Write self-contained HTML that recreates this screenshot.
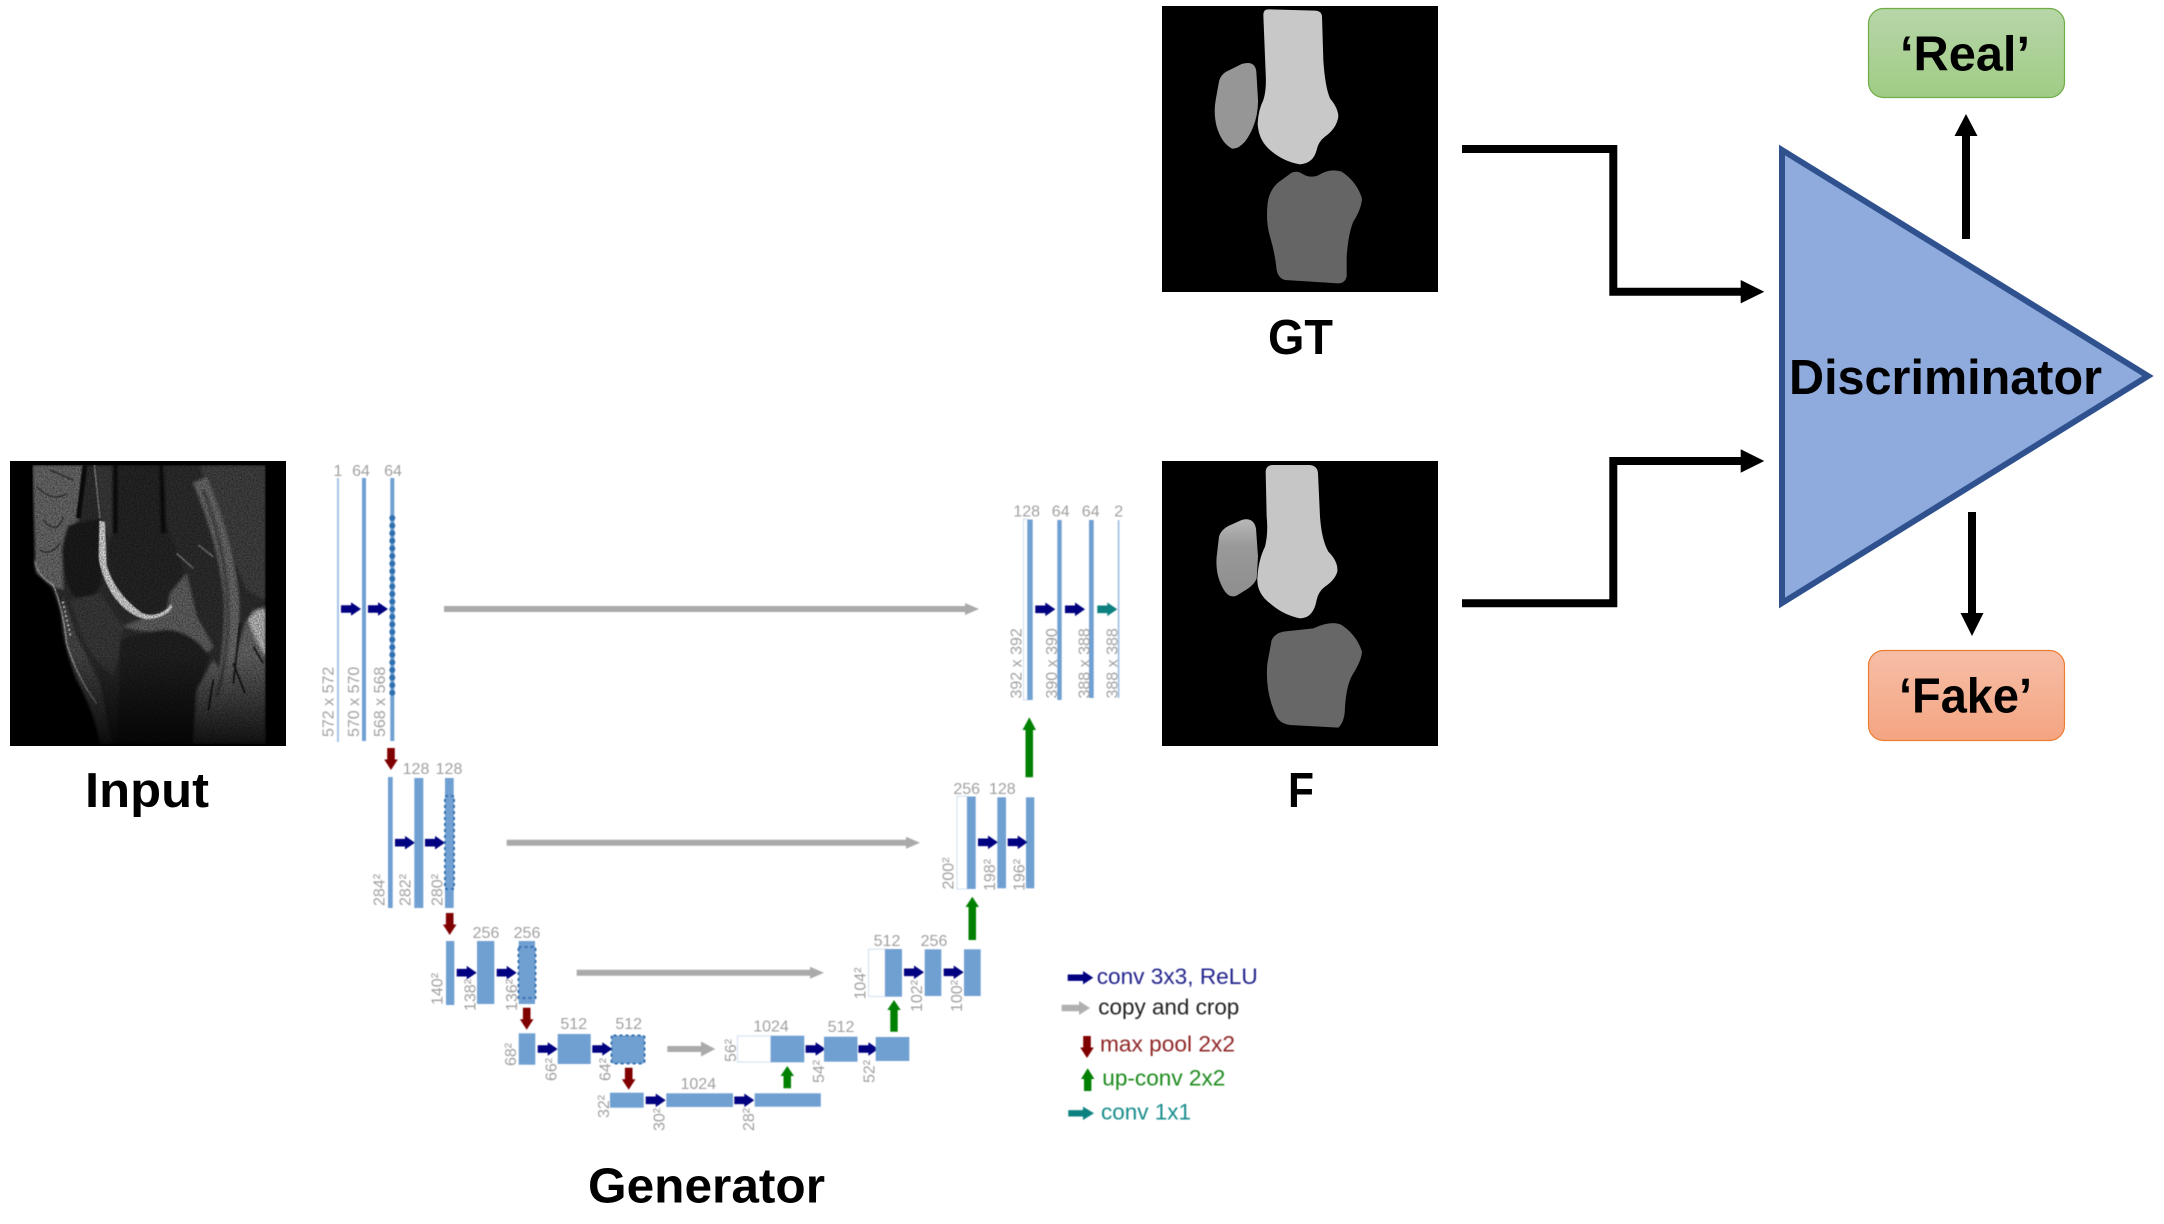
<!DOCTYPE html>
<html lang="en">
<head>
<meta charset="utf-8">
<title>GAN knee segmentation diagram</title>
<style>
html,body{margin:0;padding:0;background:#fff;width:2164px;height:1224px;overflow:hidden}
svg{display:block}
text{font-family:"Liberation Sans",sans-serif}
.b{fill:#6f9fd1}
.w{fill:#fff;stroke:#d5e3f3;stroke-width:1.2}
.t{fill:#a0a0a0;font-size:16px;text-anchor:middle}
.r{fill:#a0a0a0;font-size:16px}
.d{fill:#6f9fd1;stroke:#2f6fb0;stroke-width:2;stroke-dasharray:3 3}
.h{font-weight:bold;font-size:49px;fill:#000}
.l{font-size:22.5px}
</style>
</head>
<body>
<svg xmlns="http://www.w3.org/2000/svg" width="2164" height="1224" viewBox="0 0 2164 1224">
<defs>
  <path id="nv" d="M0-3.8H10V-6.8L20 0 10 6.8V3.8H0Z" fill="#000080"/>
  <path id="tl" d="M0-3.8H10V-6.8L20 0 10 6.8V3.8H0Z" fill="#0a8080"/>
  <path id="rd" d="M-3.8 0H3.8V11.5H6.8L0 22-6.8 11.5H-3.8Z" fill="#800000"/>
  <filter id="soft" x="-2%" y="-2%" width="104%" height="104%"><feGaussianBlur stdDeviation="0.55"/></filter>
  <filter id="mriB" x="-5%" y="-5%" width="110%" height="110%"><feGaussianBlur stdDeviation="4"/></filter>
  <filter id="mriS" x="-10%" y="-10%" width="120%" height="120%"><feGaussianBlur stdDeviation="1.6"/></filter>
  <filter id="noise" x="0" y="0" width="100%" height="100%">
    <feTurbulence type="fractalNoise" baseFrequency="0.22" numOctaves="2" seed="4"/>
    <feColorMatrix type="matrix" values="0 0 0 0 0  0 0 0 0 0  0 0 0 0 0  1.6 0 0 0 -0.5"/>
  </filter>
  <linearGradient id="fade" x1="0" y1="0" x2="0" y2="1">
    <stop offset="0.68" stop-color="#000" stop-opacity="0"/><stop offset="1" stop-color="#000" stop-opacity="0.8"/>
  </linearGradient>
  <linearGradient id="gG" x1="0" y1="0" x2="0" y2="1"><stop offset="0" stop-color="#b7d6a9"/><stop offset="1" stop-color="#a0cc85"/></linearGradient>
  <linearGradient id="gO" x1="0" y1="0" x2="0" y2="1"><stop offset="0" stop-color="#f6bea7"/><stop offset="1" stop-color="#f4a582"/></linearGradient>
  <linearGradient id="pF" x1="0" y1="0" x2="0" y2="1"><stop offset="0" stop-color="#b8b8b8"/><stop offset="0.35" stop-color="#999"/><stop offset="1" stop-color="#8e8e8e"/></linearGradient>
  <clipPath id="mriC"><rect x="97" y="45" width="700" height="835"/></clipPath>
</defs>

<!-- Input MRI -->
<rect x="10" y="461" width="276" height="285" fill="#000"/>
<g transform="translate(0,450) scale(.33333)">
  <g clip-path="url(#mriC)">
    <g filter="url(#mriB)">
      <path d="M97,45L797,45L797,880L310,880Q290,790 240,700Q205,620 190,540Q175,450 150,405L110,370Q100,340 105,320Z" fill="#2f2f2f"/>
      <path d="M97,45L250,45L235,210Q190,240 185,300L190,420L150,405L110,370Q100,340 105,320Z" fill="#6a6a6a"/>
      <path d="M600,45L797,45L797,450L740,420Q690,300 630,150Z" fill="#424242"/>
      <path d="M285,45H345L335,280L305,210Z" fill="#3a3a3a"/>
      <path d="M345,45L490,45L495,200L525,290Q560,360 545,410Q500,490 440,495Q370,480 335,400L325,300L345,200Z" fill="#272727"/>
      <path d="M345,45L345,250M485,45L490,250" stroke="#0e0e0e" stroke-width="16" fill="none"/>
      <path d="M490,45H600L640,240L620,400L545,340L500,200Z" fill="#2e2e2e"/>
      <path d="M205,225L300,205L305,400Q280,450 240,455Q200,430 190,340Q185,270 205,225Z" fill="#1f1f1f"/>
      <path d="M210,450L300,430L370,530L350,640L340,680Q270,620 240,540Z" fill="#3a3a3a"/>
      <path d="M190,440L230,560L300,700L335,880H300Q280,780 230,690Q195,600 185,520Z" fill="#4a4a4a"/>
      <path d="M370,530Q430,500 500,490L510,430L560,370L590,500L640,590L620,610Q560,530 480,540Q430,550 370,530Z" fill="#626262"/>
      <path d="M360,570Q420,550 480,545Q570,530 630,620Q590,700 585,880L350,880Q360,700 360,570Z" fill="#202020"/>
      <path d="M640,630L590,720L580,880L797,880L797,470L760,480L735,520Q710,620 680,690Z" fill="#686868"/>
      <path d="M600,90Q680,280 695,450Q700,620 650,780" stroke="#6c6c6c" stroke-width="44" fill="none"/>
      <path d="M610,120Q675,290 683,450Q690,600 650,740" stroke="#474747" stroke-width="11" fill="none"/>
      <path d="M745,510Q770,470 797,480L797,620Q760,560 745,510Z" fill="#bdbdbd"/>
    </g>
    <g filter="url(#mriS)">
      <path d="M255,45L235,205" stroke="#0d0d0d" stroke-width="14" fill="none"/>
      <path d="M283,45L300,205" stroke="#8a8a8a" stroke-width="4" fill="none"/>
      <path d="M298,212L315,216L320,345Q345,430 425,488Q450,500 478,490Q505,478 512,462L518,470Q500,505 440,508Q380,498 335,430Q300,370 296,320Z" fill="#d8d8d8"/>
      <path d="M105,335Q115,380 160,405Q190,480 200,580Q230,680 290,760" stroke="#a8a8a8" stroke-width="4" fill="none"/>
      <path d="M188,455L212,560" stroke="#eee" stroke-width="6" stroke-dasharray="5 9" fill="none"/>
      <path d="M110,110Q160,160 200,130M130,210Q170,260 190,200M120,300Q150,320 180,280M150,60L220,90" stroke="#242424" stroke-width="3" fill="none"/>
      <path d="M720,520L700,700M760,590L790,640M700,640L735,730M640,690L625,780" stroke="#151515" stroke-width="5" fill="none"/>
      <path d="M595,285L640,320M530,310L580,355" stroke="#777" stroke-width="5" fill="none"/>
    </g>
    <rect x="97" y="45" width="700" height="835" fill="url(#fade)"/>
    <rect x="97" y="45" width="700" height="835" filter="url(#noise)" opacity=".55"/>
  </g>
</g>

<!-- U-Net -->
<g filter="url(#soft)">
  <!-- level 1 -->
  <rect x="337" y="478" width="2" height="264" fill="#a5c3e6"/>
  <rect x="362" y="478" width="4" height="263" class="b"/>
  <rect x="390.3" y="478" width="4" height="263" class="b"/>
  <line x1="392.3" y1="518" x2="392.3" y2="700" stroke="#2f6fb0" stroke-width="6" stroke-linecap="round" stroke-dasharray="0 7.6"/>
  <text x="338" y="476" class="t">1</text><text x="361" y="476" class="t">64</text><text x="393" y="476" class="t">64</text>
  <text class="r" transform="translate(333.5,737) rotate(-90)">572 x 572</text>
  <text class="r" transform="translate(359,737) rotate(-90)">570 x 570</text>
  <text class="r" transform="translate(385,737) rotate(-90)">568 x 568</text>
  <use href="#nv" transform="translate(341,609)"/><use href="#nv" transform="translate(368,609)"/>
  <path d="M444,606H965V603L979,609 965,615V612H444Z" fill="#aaa"/>
  <use href="#rd" transform="translate(391,748)"/>

  <!-- level 2 -->
  <rect x="388" y="777" width="4.7" height="131" class="b"/>
  <rect x="414.3" y="778" width="9" height="130" class="b"/>
  <rect x="445" y="778" width="8.7" height="130" class="b"/>
  <rect x="445" y="796" width="9" height="93" class="d"/>
  <text x="416" y="774" class="t">128</text><text x="449" y="774" class="t">128</text>
  <text class="r" transform="translate(384.5,906) rotate(-90)">284²</text>
  <text class="r" transform="translate(410.5,906) rotate(-90)">282²</text>
  <text class="r" transform="translate(442.5,906) rotate(-90)">280²</text>
  <use href="#nv" transform="translate(395,842.7)"/><use href="#nv" transform="translate(425,842.7)"/>
  <path d="M506.7,839.7H906V836.7L920,842.7 906,848.7V845.7H506.7Z" fill="#aaa"/>
  <use href="#rd" transform="translate(449.7,913)"/>

  <!-- level 3 -->
  <rect x="446" y="941" width="8.3" height="64" class="b"/>
  <rect x="477" y="941" width="17.3" height="63" class="b"/>
  <rect x="518.7" y="941" width="16.3" height="63" class="b"/>
  <rect x="518.5" y="947" width="17" height="51" class="d"/>
  <text x="486" y="938" class="t">256</text><text x="527" y="938" class="t">256</text>
  <text class="r" transform="translate(442.5,1005) rotate(-90)">140²</text>
  <text class="r" transform="translate(475.5,1011) rotate(-90)">138²</text>
  <text class="r" transform="translate(517,1011) rotate(-90)">136²</text>
  <use href="#nv" transform="translate(456.7,972.7)"/><use href="#nv" transform="translate(496.7,972.7)"/>
  <path d="M576.7,969.7H810V966.7L824,972.7 810,978.7V975.7H576.7Z" fill="#aaa"/>
  <use href="#rd" transform="translate(526.7,1007.7)"/>

  <!-- level 4 -->
  <rect x="518.7" y="1033.3" width="16.6" height="31.4" class="b"/>
  <rect x="557.7" y="1034" width="33" height="30" class="b"/>
  <rect x="611.5" y="1035.5" width="33" height="28" rx="2" class="d"/>
  <text x="573.7" y="1029" class="t">512</text><text x="628.7" y="1029" class="t">512</text>
  <text class="r" transform="translate(516,1066) rotate(-90)">68²</text>
  <text class="r" transform="translate(556.5,1081) rotate(-90)">66²</text>
  <text class="r" transform="translate(610.5,1081) rotate(-90)">64²</text>
  <use href="#nv" transform="translate(537.7,1049)"/><use href="#nv" transform="translate(592.3,1049)"/>
  <path d="M667.3,1046H701V1041.5L715.3,1049 701,1056.5V1052H667.3Z" fill="#aaa"/>
  <use href="#rd" transform="translate(628.7,1067.7)"/>

  <text class="r" transform="translate(736,1062) rotate(-90)">56²</text>
  <rect x="737.5" y="1036" width="33.2" height="26" class="w"/>
  <rect x="770.7" y="1035.7" width="33.6" height="26.6" class="b"/>
  <text x="771" y="1031.5" class="t">1024</text>
  <use href="#nv" transform="translate(805.6,1049)"/>
  <rect x="824" y="1036.7" width="33.5" height="25" class="b"/>
  <text x="841" y="1032" class="t">512</text>
  <use href="#nv" transform="translate(858.4,1049)"/>
  <rect x="875.7" y="1037" width="33.6" height="24" class="b"/>
  <text class="r" transform="translate(824,1083) rotate(-90)">54²</text>
  <text class="r" transform="translate(874.5,1083) rotate(-90)">52²</text>

  <!-- level 5 -->
  <rect x="610" y="1092.7" width="33.7" height="15" class="b"/>
  <rect x="666.3" y="1093.3" width="66.7" height="13.7" class="b"/>
  <rect x="754.7" y="1093.3" width="66.1" height="13.4" class="b"/>
  <text x="698.3" y="1089" class="t">1024</text>
  <text class="r" transform="translate(609,1118) rotate(-90)">32²</text>
  <text class="r" transform="translate(664.5,1131) rotate(-90)">30²</text>
  <text class="r" transform="translate(754,1131) rotate(-90)">28²</text>
  <use href="#nv" transform="translate(645.7,1100.3)"/><use href="#nv" transform="translate(734.3,1100.3)"/>
  <path d="M783.5,1088.3V1076H780.5L787.3,1066 794,1076H791V1088.3Z" fill="#008000"/>

  <!-- right level 3 -->
  <path d="M890.3,1031.7V1010H887.3L894,1000 900.7,1010H897.7V1031.7Z" fill="#008000"/>
  <rect x="868.5" y="949.2" width="16.5" height="47.3" class="w"/>
  <rect x="885" y="949" width="17" height="47.7" class="b"/>
  <rect x="924.7" y="949.3" width="16.6" height="46.7" class="b"/>
  <rect x="964" y="949.3" width="16.7" height="46.7" class="b"/>
  <text x="887" y="946" class="t">512</text><text x="934" y="946" class="t">256</text>
  <use href="#nv" transform="translate(904,972.3)"/><use href="#nv" transform="translate(943.7,972.3)"/>
  <text class="r" transform="translate(865.5,999.5) rotate(-90)">104²</text>
  <text class="r" transform="translate(922,1012) rotate(-90)">102²</text>
  <text class="r" transform="translate(962,1012) rotate(-90)">100²</text>

  <!-- right level 2 -->
  <path d="M968.5,940V907H965.5L972.3,896.7 979,907H976V940Z" fill="#008000"/>
  <rect x="957" y="796.3" width="10" height="92.7" class="w"/>
  <rect x="967" y="796.5" width="8.7" height="92.5" class="b"/>
  <rect x="997.3" y="797.3" width="8.7" height="91" class="b"/>
  <rect x="1026" y="797.3" width="8.3" height="91" class="b"/>
  <text x="966.7" y="794" class="t">256</text><text x="1002.3" y="794" class="t">128</text>
  <use href="#nv" transform="translate(978,842.3)"/><use href="#nv" transform="translate(1007.7,842.3)"/>
  <text class="r" transform="translate(953.5,889.5) rotate(-90)">200²</text>
  <text class="r" transform="translate(995,891) rotate(-90)">198²</text>
  <text class="r" transform="translate(1024.5,891) rotate(-90)">196²</text>

  <!-- right level 1 -->
  <path d="M1025.5,777.3V730H1022.5L1029.3,717.3 1036,730H1033V777.3Z" fill="#008000"/>
  <rect x="1023.5" y="519" width="4" height="181" class="w"/>
  <rect x="1027.3" y="519.5" width="5.4" height="180.5" class="b"/>
  <rect x="1057.3" y="520" width="4.4" height="180" class="b"/>
  <rect x="1089" y="520" width="4.7" height="178" class="b"/>
  <rect x="1117.7" y="520" width="1.8" height="178" fill="#a5c3e6"/>
  <text x="1026.7" y="516.5" class="t">128</text><text x="1060.7" y="516.5" class="t">64</text><text x="1090.7" y="516.5" class="t">64</text><text x="1118.7" y="516.5" class="t">2</text>
  <use href="#nv" transform="translate(1035.3,609.3)"/><use href="#nv" transform="translate(1065,609.3)"/><use href="#tl" transform="translate(1097.3,609.3)"/>
  <text class="r" transform="translate(1021.5,698.5) rotate(-90)">392 x 392</text>
  <text class="r" transform="translate(1057,698.5) rotate(-90)">390 x 390</text>
  <text class="r" transform="translate(1089.5,698.5) rotate(-90)">388 x 388</text>
  <text class="r" transform="translate(1117.5,698.5) rotate(-90)">388 x 388</text>

  <!-- legend -->
  <path d="M1067.7,974.5H1083V971L1093.3,977.7 1083,984.4V980.9H1067.7Z" fill="#000080"/>
  <text x="1096.7" y="984" class="l" fill="#24248c" textLength="161" lengthAdjust="spacingAndGlyphs">conv 3x3, ReLU</text>
  <path d="M1061.7,1004.8H1079V1001L1090,1008 1079,1015V1011.2H1061.7Z" fill="#b0b0b0"/>
  <text x="1098.3" y="1014.3" class="l" fill="#222" textLength="141" lengthAdjust="spacingAndGlyphs">copy and crop</text>
  <use href="#rd" transform="translate(1087,1036)"/>
  <text x="1100" y="1051.7" class="l" fill="#8f2626" textLength="135" lengthAdjust="spacingAndGlyphs">max pool 2x2</text>
  <path d="M1084,1091V1079H1081L1087.7,1068.3 1094.4,1079H1091.4V1091Z" fill="#008000"/>
  <text x="1102.3" y="1085.7" class="l" fill="#1f8a1f" textLength="123" lengthAdjust="spacingAndGlyphs">up-conv 2x2</text>
  <path d="M1068.3,1110.1H1083V1106.6L1094,1113.3 1083,1120V1116.5H1068.3Z" fill="#0a8080"/>
  <text x="1101" y="1119.3" class="l" fill="#178c8c" textLength="90" lengthAdjust="spacingAndGlyphs">conv 1x1</text>
</g>

<!-- GT -->
<rect x="1162" y="6" width="276" height="286" fill="#000"/>
<g transform="translate(1150,0) scale(.33333)">
  <path d="M340,45Q340,28 355,28L495,32Q515,33 516,50L520,180Q525,260 540,295Q565,325 565,350Q560,385 525,410Q505,425 500,450Q490,490 450,493Q400,485 360,450Q325,420 323,370Q325,330 340,300Q350,270 347,220Z" fill="#c8c8c8"/>
  <path d="M207,245Q212,222 235,212L275,192Q315,180 319,215L324,300Q325,370 285,425Q262,450 245,445Q215,430 200,380Q190,340 197,300Z" fill="#969696"/>
  <path d="M395,540L425,518Q440,512 455,520Q485,540 515,520Q545,505 575,515Q620,545 636,595Q635,625 610,665Q595,700 590,770L590,830Q585,850 565,850L405,840Q385,835 380,810Q375,760 360,710Q348,670 352,620Q355,565 395,540Z" fill="#656565"/>
</g>

<!-- F -->
<rect x="1162" y="461" width="276" height="285" fill="#000"/>
<g transform="translate(1150,450) scale(.33333)">
  <path d="M347,65Q348,46 368,45L480,45Q503,48 504,70L510,200Q515,270 535,305Q565,335 562,365Q555,390 525,410Q505,425 500,450Q490,505 450,505Q400,495 360,460Q320,430 322,385Q325,330 345,290Q355,250 350,200Z" fill="#c6c6c6"/>
  <path d="M207,260Q212,240 235,228L275,210Q310,200 318,235L324,320L320,385Q315,400 295,415L260,437Q240,445 225,425Q195,380 200,320Z" fill="url(#pF)"/>
  <path d="M365,570Q375,550 400,545L490,535Q545,510 575,525Q620,555 636,605Q635,630 610,670Q590,700 585,770Q585,815 565,833L420,825Q385,820 375,790Q345,720 352,640Z" fill="#676767"/>
</g>

<!-- Connectors -->
<path d="M1462,149H1613.3V291.7H1742" fill="none" stroke="#000" stroke-width="8"/>
<path d="M1740.7,280L1764.3,291.7 1740.7,303.4Z" fill="#000"/>
<path d="M1462,603.3H1613.3V461H1742" fill="none" stroke="#000" stroke-width="8"/>
<path d="M1740.7,449.3L1764.3,461 1740.7,472.7Z" fill="#000"/>

<!-- Discriminator -->
<path d="M1782,150L2148,376 1782,603Z" fill="#8faadc" stroke="#2f528f" stroke-width="6"/>
<text x="1789" y="394" class="h" textLength="313" lengthAdjust="spacingAndGlyphs">Discriminator</text>

<!-- Outputs -->
<path d="M1962,239V136H1954.5L1966,114 1977.5,136H1970V239Z" fill="#000"/>
<path d="M1968,512V613H1960.5L1972,636 1983.5,613H1976V512Z" fill="#000"/>
<rect x="1868.5" y="8.5" width="196" height="89" rx="15" fill="url(#gG)" stroke="#70ad47" stroke-width="1.2"/>
<rect x="1868.5" y="650.5" width="196" height="90" rx="15" fill="url(#gO)" stroke="#ed7d31" stroke-width="1.2"/>
<text x="1900" y="70.7" class="h" textLength="130" lengthAdjust="spacingAndGlyphs">‘Real’</text>
<text x="1899" y="712.7" class="h" textLength="133" lengthAdjust="spacingAndGlyphs">‘Fake’</text>

<!-- Captions -->
<text x="85" y="807" class="h" textLength="124" lengthAdjust="spacingAndGlyphs">Input</text>
<text x="1268" y="354" class="h" textLength="65" lengthAdjust="spacingAndGlyphs">GT</text>
<text x="1288" y="807" class="h" textLength="26" lengthAdjust="spacingAndGlyphs">F</text>
<text x="588" y="1202.7" class="h" textLength="237" lengthAdjust="spacingAndGlyphs">Generator</text>
</svg>
</body>
</html>
